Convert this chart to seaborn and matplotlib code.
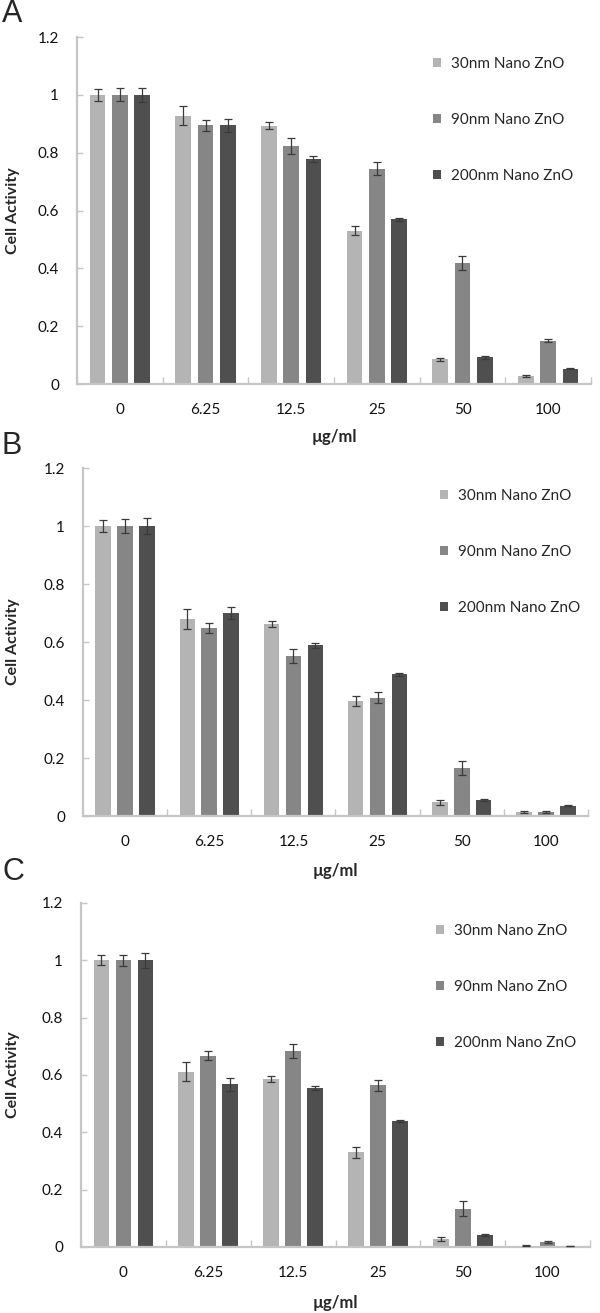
import numpy as np
import pandas as pd
import seaborn as sns
import matplotlib.pyplot as plt
from matplotlib.ticker import FixedLocator

# ---------------- data ----------------
concentrations = ["0", "6.25", "12.5", "25", "50", "100"]
sizes = ["30nm Nano ZnO", "90nm Nano ZnO", "200nm Nano ZnO"]
colors = ["#b4b4b4", "#868686", "#4f4f4f"]
panel_letters = ["A", "B", "C"]

a_30 = [1.00, 0.927, 0.893, 0.530, 0.086, 0.028]
a_90 = [1.00, 0.894, 0.824, 0.744, 0.419, 0.150]
a_200 = [1.00, 0.894, 0.778, 0.569, 0.092, 0.053]
a_30_err = [0.020, 0.033, 0.012, 0.016, 0.005, 0.003]
a_90_err = [0.022, 0.018, 0.027, 0.022, 0.024, 0.004]
a_200_err = [0.025, 0.024, 0.010, 0.005, 0.004, 0.002]

b_30 = [1.00, 0.679, 0.661, 0.397, 0.047, 0.013]
b_90 = [1.00, 0.648, 0.552, 0.408, 0.165, 0.014]
b_200 = [1.00, 0.700, 0.588, 0.489, 0.054, 0.036]
b_30_err = [0.020, 0.035, 0.010, 0.017, 0.008, 0.003]
b_90_err = [0.023, 0.017, 0.023, 0.018, 0.025, 0.004]
b_200_err = [0.026, 0.021, 0.010, 0.005, 0.003, 0.002]

c_30 = [1.00, 0.612, 0.586, 0.331, 0.028, 0.005]
c_90 = [1.00, 0.667, 0.685, 0.564, 0.134, 0.017]
c_200 = [1.00, 0.567, 0.553, 0.440, 0.043, 0.004]
c_30_err = [0.018, 0.034, 0.010, 0.019, 0.007, 0.002]
c_90_err = [0.020, 0.015, 0.024, 0.020, 0.026, 0.004]
c_200_err = [0.026, 0.023, 0.007, 0.004, 0.004, 0.001]

y_ticks = [0, 0.2, 0.4, 0.6, 0.8, 1.0, 1.2]
y_ticklabels = ["0", "0.2", "0.4", "0.6", "0.8", "1", "1.2"]
x_label = "\u00b5g/ml"
y_label = "Cell Activity"

panels = [
    ([a_30, a_90, a_200], [a_30_err, a_90_err, a_200_err]),
    ([b_30, b_90, b_200], [b_30_err, b_90_err, b_200_err]),
    ([c_30, c_90, c_200], [c_30_err, c_90_err, c_200_err]),
]

# ---------------- style ----------------
sns.set_style("white")
plt.rcParams["font.family"] = ["Lato", "DejaVu Sans"]

W, H = 600, 1313
fig = plt.figure(figsize=(W / 100, H / 100), dpi=100)

# axes rectangles in pixels: left, right, top(1.2), bottom(0)
rects = [(77, 591, 37, 384), (83, 588, 468, 816), (81, 590, 903, 1247)]
legend_pos = [(433, 57), (440, 489), (436, 924)]
letter_y = [14, 446, 872]
xlabel_y = [437, 871, 1303]

axis_color = "#c6c6c6"

for i, ((vals, errs), (l, r, t, b)) in enumerate(zip(panels, rects)):
    ax = fig.add_axes([l / W, 1 - b / H, (r - l) / W, (b - t) / H])
    df = pd.DataFrame({
        "conc": np.tile(concentrations, len(sizes)),
        "size": np.repeat(sizes, len(concentrations)),
        "value": np.concatenate(vals),
    })
    sns.barplot(data=df, x="conc", y="value", hue="size", order=concentrations,
                hue_order=sizes, palette=colors, width=0.78, gap=0.29,
                errorbar=None, saturation=1, linewidth=0, ax=ax)
    # error bars at the library's bar positions
    for cont, err in zip(ax.containers, errs):
        xs = [p.get_x() + p.get_width() / 2 for p in cont.patches]
        hs = [p.get_height() for p in cont.patches]
        ax.errorbar(xs, hs, yerr=err, fmt="none", ecolor="#3a3a3a",
                    elinewidth=0.9, capsize=3.2, capthick=0.9, zorder=5)

    ax.set_ylim(0, 1.2)
    ax.set_xlim(-0.5, len(concentrations) - 0.5)
    ax.set_yticks(y_ticks)
    ax.set_yticklabels(y_ticklabels)
    ax.tick_params(axis="y", direction="in", length=4, width=1, color=axis_color,
                   pad=13, labelsize=11, labelcolor="#111111", left=True)
    ax.tick_params(axis="x", which="major", length=0, pad=14, labelsize=11,
                   labelcolor="#111111")
    ax.xaxis.set_minor_locator(FixedLocator(np.arange(-0.5, len(concentrations), 1.0)))
    ax.tick_params(axis="x", which="minor", direction="in", length=5, width=1,
                   color=axis_color, bottom=True)
    for s in ["top", "right"]:
        ax.spines[s].set_visible(False)
    for s in ["left", "bottom"]:
        ax.spines[s].set_color(axis_color)
        ax.spines[s].set_linewidth(1.6)

    ax.set_xlabel(x_label, fontsize=12, fontweight="bold")
    ax.xaxis.set_label_coords(0.5, -(xlabel_y[i] - b) / (b - t))
    ax.set_ylabel(y_label, fontsize=11.5, fontweight="bold")
    ax.yaxis.set_label_coords(-(l - 13) / (r - l), 0.5)
    ax.yaxis.label.set_verticalalignment("center")
    ax.xaxis.label.set_verticalalignment("center")

    handles, labels = ax.get_legend_handles_labels()
    lx, ly = legend_pos[i]
    ax.legend(handles, labels, loc="upper left",
              bbox_to_anchor=(lx / W, 1 - ly / H), bbox_transform=fig.transFigure,
              frameon=False, fontsize=11, handlelength=0.5, handleheight=0.5,
              handletextpad=0.7, labelspacing=2.75, borderpad=0, borderaxespad=0)

    fig.text(2 / W, 1 - letter_y[i] / H, panel_letters[i], fontsize=22,
             family=["Liberation Sans", "DejaVu Sans"], va="center", ha="left")

fig.savefig("out.png", dpi=100)
